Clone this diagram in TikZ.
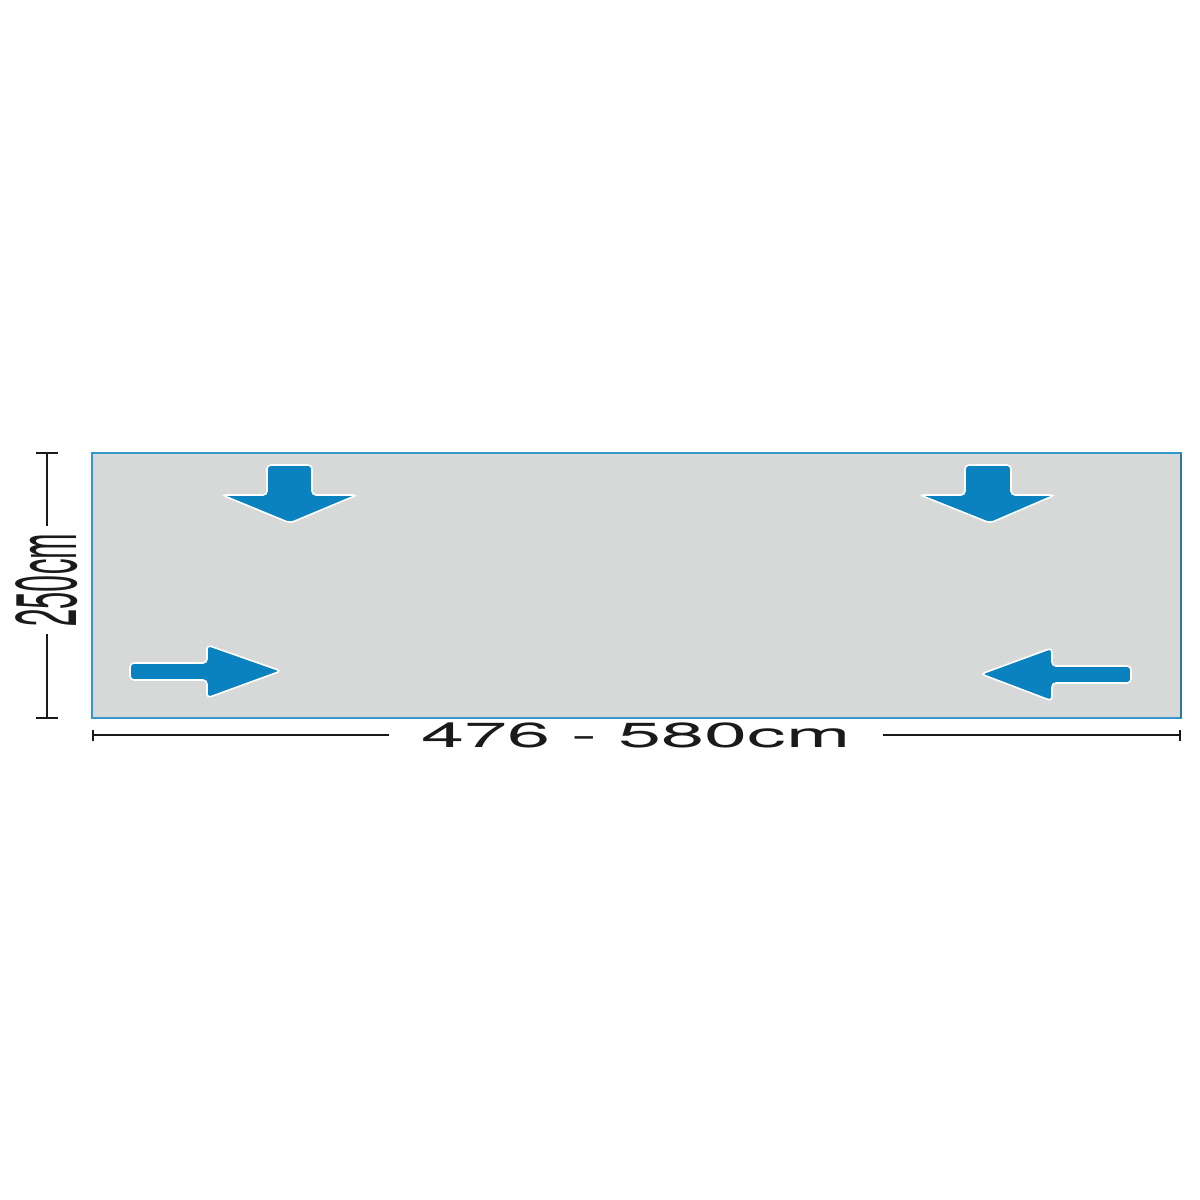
\documentclass[tikz,border=0pt]{standalone}
\usepackage{fontspec}
\setmainfont{TeX Gyre Heros}
\definecolor{matgray}{HTML}{D7D8D8}
\definecolor{edgeblue}{HTML}{3399CC}
\definecolor{arrowblue}{HTML}{0A82BF}
\definecolor{dimink}{HTML}{1A1A1A}
\tikzset{
  blockarrow/.style={fill=arrowblue, draw=white, line width=0.8pt, rounded corners=2pt},
  dimline/.style={draw=dimink, line width=0.9pt},
  dimtick/.style={draw=dimink, line width=1.1pt},
}
\begin{document}
\begin{tikzpicture}[x=0.5pt,y=-0.5pt]
\useasboundingbox[fill=white] (0,0) rectangle (1200,1200);
% mat
\draw[fill=matgray, draw=edgeblue, line width=1.1pt] (92,453) rectangle (1181,718);
\draw[draw=edgeblue!80!black, line width=1.4pt] (1181,453) -- (1181,718);
% arrows
\path[blockarrow] (267,465) -- (312,465) -- (312,495) -- (357,495) -- (290,523) -- (222,495) -- (267,495) -- cycle;
\path[blockarrow] (965,465) -- (1011,465) -- (1011,495) -- (1055,495) -- (990,523) -- (920,495) -- (965,495) -- cycle;
\path[blockarrow] (130,663) -- (207,663) -- (207,645) -- (281,671) -- (207,698) -- (207,680) -- (130,680) -- cycle;
\path[blockarrow] (1131,666) -- (1052,666) -- (1052,648) -- (981,674) -- (1052,701) -- (1052,683) -- (1131,683) -- cycle;
% vertical dimension
\coordinate (vt) at (47,453);
\coordinate (vb) at (47,718);
\node[rotate=90, inner sep=0pt, outer sep=4pt, text=dimink] (vlab) at (47,580)
  {\scalebox{0.36}[1]{\fontsize{43}{43}\selectfont 250cm}};
\draw[dimline] (vt) -- (vlab.east);
\draw[dimline] (vlab.west) -- (vb);
\draw[dimtick] (36,453) -- (58,453);
\draw[dimtick] (36,718) -- (58,718);
% horizontal dimension
\coordinate (hl) at (93,735);
\coordinate (hr) at (1180,735);
\node[inner sep=0pt, outer xsep=16pt, text=dimink] (hlab) at (636,735)
  {\scalebox{2.22}[1]{\fontsize{17.4}{17.4}\selectfont 476 - 580cm}};
\draw[dimline] (hl) -- (hlab.west);
\draw[dimline] (hlab.east) -- (hr);
\draw[dimtick] (93,730) -- (93,741);
\draw[dimtick] (1180,730) -- (1180,741);
\end{tikzpicture}
\end{document}
